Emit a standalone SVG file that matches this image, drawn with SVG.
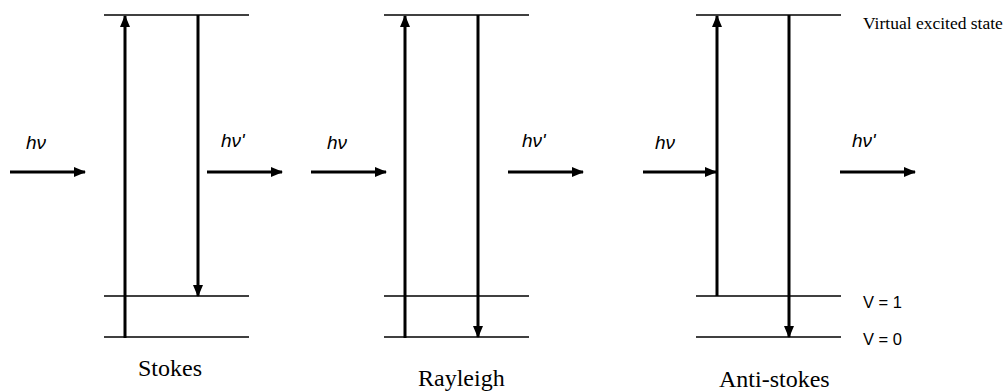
<svg xmlns="http://www.w3.org/2000/svg" width="1007" height="391" viewBox="0 0 1007 391">
<style>
.lvl{stroke:#000;stroke-width:1.4;fill:none}
.tr{stroke:#000;stroke-width:3;fill:none}
.ph{stroke:#000;stroke-width:3;fill:none}
.hv{font-family:"Liberation Sans",Arial,sans-serif;font-style:italic;font-size:19px;fill:#000}
.cap{font-family:"Liberation Serif","Times New Roman",serif;font-size:24px;fill:#000}
.note{font-family:"Liberation Serif","Times New Roman",serif;font-size:17.5px;fill:#000}
.vl{font-family:"Liberation Sans",Arial,sans-serif;font-size:16.5px;fill:#000}
</style>
<defs>
<marker id="ah" viewBox="0 0 12 10" refX="11" refY="5" markerWidth="12" markerHeight="10" markerUnits="userSpaceOnUse" orient="auto">
<path d="M0,0 L12,5 L0,10 Z" fill="#000"/>
</marker>
</defs>
<g id="levels">
<line class="lvl" x1="104" y1="15" x2="249" y2="15"/>
<line class="lvl" x1="104" y1="296" x2="249" y2="296"/>
<line class="lvl" x1="104" y1="337" x2="249" y2="337"/>
<line class="lvl" x1="384" y1="15" x2="529" y2="15"/>
<line class="lvl" x1="384" y1="296" x2="529" y2="296"/>
<line class="lvl" x1="384" y1="337" x2="529" y2="337"/>
<line class="lvl" x1="696" y1="15" x2="841" y2="15"/>
<line class="lvl" x1="696" y1="296" x2="841" y2="296"/>
<line class="lvl" x1="696" y1="337" x2="841" y2="337"/>
</g>
<g id="connectors">
<line class="tr" x1="125" y1="338" x2="125" y2="16" marker-end="url(#ah)"/>
<line class="tr" x1="198" y1="15" x2="198" y2="296" marker-end="url(#ah)"/>
<line class="tr" x1="405" y1="338" x2="405" y2="16" marker-end="url(#ah)"/>
<line class="tr" x1="478" y1="15" x2="478" y2="337" marker-end="url(#ah)"/>
<line class="tr" x1="717" y1="296" x2="717" y2="16" marker-end="url(#ah)"/>
<line class="tr" x1="789" y1="15" x2="789" y2="337" marker-end="url(#ah)"/>
<line class="ph" x1="10" y1="172" x2="85" y2="172" marker-end="url(#ah)"/>
<line class="ph" x1="207" y1="172" x2="282" y2="172" marker-end="url(#ah)"/>
<line class="ph" x1="311" y1="172" x2="386" y2="172" marker-end="url(#ah)"/>
<line class="ph" x1="508" y1="172" x2="583" y2="172" marker-end="url(#ah)"/>
<line class="ph" x1="643" y1="172" x2="716" y2="172" marker-end="url(#ah)"/>
<line class="ph" x1="840" y1="172" x2="915" y2="172" marker-end="url(#ah)"/>
</g>
<g id="labels">
<text class="hv" x="26" y="149">hν</text>
<text class="hv" x="221" y="147">hν'</text>
<text class="hv" x="327" y="149">hν</text>
<text class="hv" x="522" y="147">hν'</text>
<text class="hv" x="655" y="149">hν</text>
<text class="hv" x="852" y="147">hν'</text>
<text class="note" x="863" y="29">Virtual excited state</text>
<text class="vl" x="863" y="308">V = 1</text>
<text class="vl" x="863" y="345">V = 0</text>
<text class="cap" x="138" y="376">Stokes</text>
<text class="cap" x="418" y="386">Rayleigh</text>
<text class="cap" x="719" y="387">Anti-stokes</text>
</g>
</svg>
